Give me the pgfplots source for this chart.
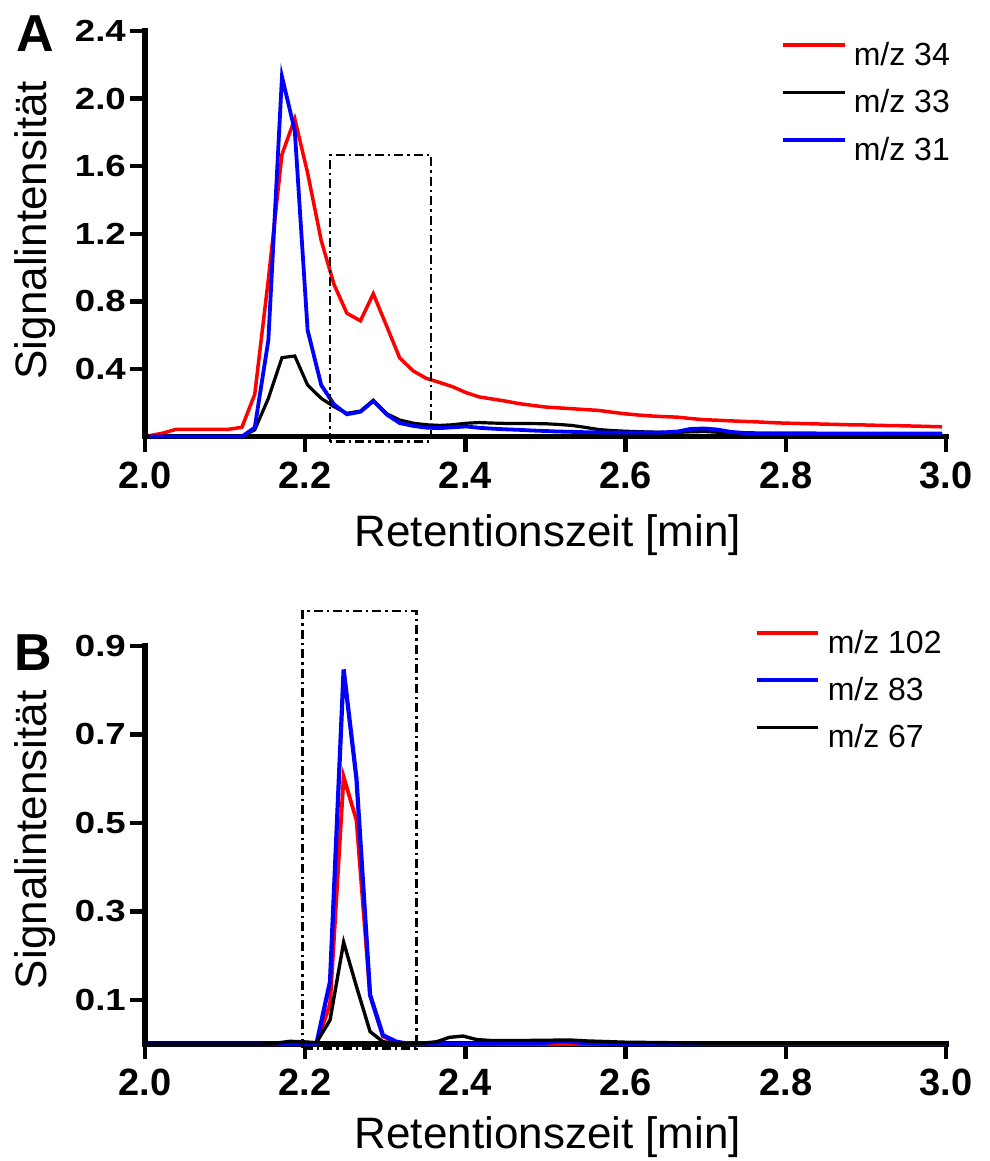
\documentclass[border=0pt]{standalone}
\usepackage{fontspec}
\setmainfont{Liberation Sans}
\newfontfamily\ytickfont{Liberation Sans}[FakeStretch=1.2]
\usepackage{pgfplots}
\pgfplotsset{compat=1.18}
\begin{document}
\begin{tikzpicture}
\useasboundingbox (0,0) rectangle (989pt,1161pt);
\pgfplotsset{
  chrom/.style={
    scale only axis, width=801pt,
    xmin=2, xmax=3, ymin=0,
    axis lines=left,
    axis line style={-, line width=5.5pt, line cap=rect},
    major tick style={black, line width=4.5pt},
    major tick length=15pt,
    tick align=outside,
    xtick={2,2.2,2.4,2.6,2.8,3},
    xticklabels={2.0,2.2,2.4,2.6,2.8,3.0},
    xticklabel style={font=\bfseries\fontsize{38}{40}\selectfont, inner xsep=0pt, inner ysep=10pt},
    yticklabel style={font=\ytickfont\bfseries\fontsize{30.5}{32}\selectfont, inner xsep=4pt, inner ysep=0pt},
    label style={font=\fontsize{44}{48}\selectfont},
    xlabel={Retentionszeit [min]},
    ylabel={Signalintensität},
    clip=false,
    legend cell align=left,
    legend style={draw=none, fill=none, font=\fontsize{32}{36}\selectfont,
      nodes={inner sep=0pt, text height=23pt, text depth=6pt}, anchor=north west},
  }
}
% ---------------- Panel A ----------------
\begin{axis}[chrom,
  at={(145pt,724.4pt)}, anchor=south west,
  height=405.6pt, ymax=2.4,
  ytick={0.4,0.8,1.2,1.6,2.0,2.4},
  yticklabels={0.4,0.8,1.2,1.6,2.0,2.4},
  xlabel style={at={(axis description cs:0.503,-0.27)}, anchor=base},
  ylabel style={at={(axis description cs:-0.137,0.509)}, anchor=center},
  legend image code/.code={\draw[#1] (0pt,11.5pt) -- (62pt,11.5pt); \path (69pt,11.5pt);},
  legend style={at={(axis description cs:0.790,0.978)}, /tikz/row sep=18.5pt},
]
\addplot[red, line width=3.5pt] coordinates {
(2.005,0.005) (2.022,0.02) (2.038,0.042) (2.055,0.043) (2.071,0.043) (2.088,0.043)
(2.104,0.043) (2.121,0.055) (2.137,0.25) (2.154,0.93) (2.171,1.67) (2.187,1.88)
(2.203,1.56) (2.220,1.16) (2.236,0.90) (2.252,0.73) (2.269,0.685) (2.285,0.845)
(2.302,0.65) (2.318,0.465) (2.335,0.388) (2.351,0.345) (2.368,0.32) (2.384,0.295)
(2.401,0.26) (2.417,0.235) (2.434,0.222) (2.450,0.21) (2.467,0.195) (2.483,0.185)
(2.500,0.175) (2.516,0.17) (2.533,0.165) (2.549,0.16) (2.566,0.155) (2.582,0.145)
(2.599,0.135) (2.615,0.128) (2.632,0.122) (2.648,0.118) (2.665,0.115) (2.681,0.107)
(2.698,0.10) (2.714,0.097) (2.731,0.093) (2.747,0.09) (2.764,0.087) (2.780,0.083)
(2.797,0.08) (2.813,0.078) (2.830,0.076) (2.846,0.074) (2.863,0.072) (2.879,0.07)
(2.896,0.069) (2.912,0.067) (2.929,0.065) (2.945,0.064) (2.962,0.062) (2.978,0.06)
(2.995,0.058)};
\addlegendentry{m/z 34}
\addplot[black, line width=3.2pt] coordinates {
(2.005,0) (2.104,0) (2.121,0.0) (2.137,0.04) (2.154,0.226) (2.171,0.467) (2.187,0.477)
(2.203,0.305) (2.220,0.226) (2.236,0.177) (2.252,0.138) (2.269,0.151) (2.285,0.215)
(2.302,0.135) (2.318,0.098) (2.335,0.079) (2.351,0.07) (2.368,0.066) (2.384,0.07)
(2.401,0.079) (2.417,0.083) (2.434,0.08) (2.450,0.078) (2.467,0.078) (2.483,0.077)
(2.500,0.076) (2.516,0.072) (2.533,0.066) (2.549,0.055) (2.566,0.042) (2.582,0.036)
(2.599,0.032) (2.615,0.029) (2.632,0.027) (2.648,0.025) (2.665,0.025) (2.681,0.028)
(2.698,0.03) (2.714,0.026) (2.731,0.02) (2.747,0.018) (2.780,0.017) (2.830,0.016)
(2.896,0.015) (2.995,0.015)};
\addlegendentry{m/z 33}
\addplot[blue, line width=3.8pt] coordinates {
(2.005,0) (2.104,0) (2.121,0.0) (2.137,0.053) (2.154,0.57) (2.171,2.13) (2.187,1.81)
(2.203,0.63) (2.220,0.305) (2.236,0.19) (2.252,0.132) (2.269,0.147) (2.285,0.21)
(2.302,0.13) (2.318,0.08) (2.335,0.063) (2.351,0.053) (2.368,0.05) (2.384,0.055)
(2.401,0.06) (2.417,0.052) (2.434,0.047) (2.450,0.043) (2.467,0.04) (2.483,0.036)
(2.500,0.033) (2.516,0.03) (2.533,0.028) (2.549,0.026) (2.566,0.025) (2.582,0.024)
(2.599,0.024) (2.615,0.024) (2.632,0.024) (2.648,0.025) (2.665,0.03) (2.681,0.045)
(2.698,0.048) (2.714,0.042) (2.731,0.028) (2.747,0.022) (2.764,0.02) (2.830,0.019)
(2.896,0.018) (2.995,0.018)};
\addlegendentry{m/z 31}
\draw[black, line width=2.7pt, dash pattern=on 9pt off 4pt on 2.5pt off 4pt]
  (axis cs:2.231,-0.03) rectangle (axis cs:2.357,1.666);
\end{axis}
% ---------------- Panel B ----------------
\begin{axis}[chrom,
  at={(145pt,117pt)}, anchor=south west,
  height=398pt, ymax=0.9,
  ytick={0.1,0.3,0.5,0.7,0.9},
  yticklabels={0.1,0.3,0.5,0.7,0.9},
  xlabel style={at={(axis description cs:0.503,-0.262)}, anchor=base},
  ylabel style={at={(axis description cs:-0.137,0.513)}, anchor=center},
  legend image code/.code={\draw[#1] (0pt,11.5pt) -- (61pt,11.5pt); \path (69pt,11.5pt);},
  legend style={at={(axis description cs:0.757,1.045)}, /tikz/row sep=18pt},
]
\addplot[red, line width=3.8pt] coordinates {
(2.0,0) (2.197,0) (2.214,0) (2.231,0.09) (2.248,0.604) (2.264,0.506) (2.281,0.11)
(2.297,0.017) (2.314,0.004) (2.331,0.0) (2.5,0.0) (3.0,0.0)};
\addlegendentry{m/z 102}
\addplot[blue, line width=4.2pt] coordinates {
(2.0,0) (2.197,0) (2.214,0) (2.231,0.141) (2.248,0.847) (2.264,0.60) (2.281,0.111)
(2.297,0.02) (2.314,0.005) (2.331,0.0) (2.497,0.002) (2.514,0.006) (2.530,0.006)
(2.547,0.002) (2.6,0.0) (3.0,0.0)};
\addlegendentry{m/z 83}
\addplot[black, line width=3.4pt] coordinates {
(2.0,0) (2.148,0) (2.164,0.002) (2.181,0.006) (2.197,0.005) (2.214,0.003) (2.231,0.054)
(2.248,0.23) (2.264,0.13) (2.281,0.028) (2.297,0.005) (2.314,0.002) (2.331,0.001)
(2.347,0.002) (2.364,0.005) (2.380,0.015) (2.397,0.018) (2.414,0.01) (2.430,0.008)
(2.480,0.008) (2.530,0.009) (2.550,0.007) (2.600,0.004) (2.700,0.002) (3.0,0.002)};
\addlegendentry{m/z 67}
\draw[black, line width=2.7pt, dash pattern=on 9pt off 4pt on 2.5pt off 4pt]
  (axis cs:2.197,-0.01) rectangle (axis cs:2.339,0.979);
\end{axis}
\node[font=\fontsize{52}{56}\selectfont\bfseries] at (35pt,1127pt) {A};
\node[font=\fontsize{52}{56}\selectfont\bfseries] at (33pt,508pt) {B};
\end{tikzpicture}
\end{document}
